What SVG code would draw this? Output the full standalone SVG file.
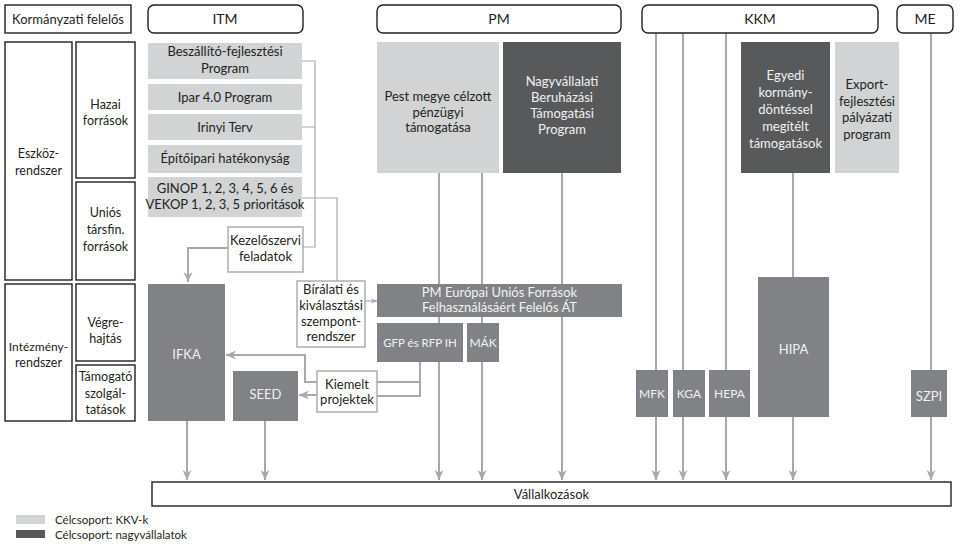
<svg xmlns="http://www.w3.org/2000/svg" width="965" height="546" viewBox="0 0 965 546">
<defs>
<marker id="arr" viewBox="0 0 10 10" refX="10" refY="5" markerWidth="10" markerHeight="10" markerUnits="userSpaceOnUse" orient="auto">
<path d="M0,0.5 L10,5 L0,9.5 L3,5 z" fill="#a7a9ac"/>
</marker>
<marker id="arrs" viewBox="0 0 10 10" refX="10" refY="5" markerWidth="6" markerHeight="6" markerUnits="userSpaceOnUse" orient="auto">
<path d="M0,0.5 L10,5 L0,9.5 L3,5 z" fill="#a7a9ac"/>
</marker>
</defs>
<style>
text{font-family:Lato,"Open Sans","Liberation Sans",sans-serif;font-size:13px;text-anchor:middle;fill:#231f20}
.hdr{fill:#fff;stroke:#231f20;stroke-width:1.4}
.lbl{fill:#fff;stroke:#231f20;stroke-width:1.4}
.lt{fill:#d1d3d4}
.dk{fill:#58595b}
.md{fill:#808285}
.note{fill:#fff;stroke:#a7a9ac;stroke-width:1.4}
.w{fill:#f1f2f2}
.c{fill:none;stroke:#a7a9ac;stroke-width:2}
.t{fill:none;stroke:#a7a9ac;stroke-width:1.2}
text.lg{font-size:11.5px;text-anchor:start}
text.sm{font-size:12.5px}
text.xs{font-size:12px}
text.xxs{font-size:11.5px}
text.h{font-size:14px}
</style>

<g id="connectors">
<path class="t" d="M302,61 H315 V247 H303 M302,127 H315"/>
<path class="t" d="M302,198 H337 V281"/>
<path class="c" d="M228,248 H188 V282" marker-end="url(#arr)"/>
<path class="t" d="M365,301 H377" marker-end="url(#arrs)"/>
<path class="c" d="M420,362 V396 H377 M420,382 H377"/>
<path class="c" d="M317,382 H305 V355 H226" marker-end="url(#arr)"/>
<path class="c" d="M317,395 H299" marker-end="url(#arr)"/>
<path class="c" d="M187,421 V480" marker-end="url(#arr)"/>
<path class="c" d="M265,421 V480" marker-end="url(#arr)"/>
<path class="c" d="M439,173 V480" marker-end="url(#arr)"/>
<path class="c" d="M482,173 V480" marker-end="url(#arr)"/>
<path class="c" d="M562,173 V480" marker-end="url(#arr)"/>
<path class="c" d="M656,33 V480" marker-end="url(#arr)"/>
<path class="c" d="M683,33 V480" marker-end="url(#arr)"/>
<path class="c" d="M726,33 V480" marker-end="url(#arr)"/>
<path class="c" d="M793,173 V480" marker-end="url(#arr)"/>
<path class="c" d="M931,33 V480" marker-end="url(#arr)"/>
</g>

<g id="hdr-korm"><rect class="lbl" x="5" y="5" width="126" height="28"/><text x="68" y="24">Kormányzati felelős</text></g>
<g id="hdr-itm"><rect class="hdr" x="148" y="5" width="155" height="28" rx="6"/><text class="h" x="225" y="24">ITM</text></g>
<g id="hdr-pm"><rect class="hdr" x="377" y="5" width="244" height="28" rx="6"/><text class="h" x="499" y="24">PM</text></g>
<g id="hdr-kkm"><rect class="hdr" x="642" y="5" width="236" height="28" rx="6"/><text class="h" x="760" y="24">KKM</text></g>
<g id="hdr-me"><rect class="hdr" x="897" y="5" width="56" height="28" rx="6"/><text class="h" x="925" y="24">ME</text></g>

<g id="eszkoz"><rect class="lbl" x="5" y="42" width="67" height="238"/><text class="sm" x="38.5" y="158">Eszköz-</text><text class="sm" x="38.5" y="175">rendszer</text></g>
<g id="hazai"><rect class="lbl" x="76" y="42" width="59" height="136"/><text class="sm" x="105.5" y="109">Hazai</text><text class="sm" x="105.5" y="125">források</text></g>
<g id="unios"><rect class="lbl" x="76" y="182" width="59" height="98"/><text class="sm" x="105.5" y="217">Uniós</text><text class="sm" x="105.5" y="234">társfin.</text><text class="sm" x="105.5" y="251">források</text></g>
<g id="intezmeny"><rect class="lbl" x="5" y="284" width="67" height="137"/><text class="xs" x="38.5" y="351">Intézmény-</text><text class="sm" x="38.5" y="367">rendszer</text></g>
<g id="vegre"><rect class="lbl" x="76" y="284" width="59" height="77"/><text class="sm" x="105.5" y="327">Végre-</text><text class="sm" x="105.5" y="343">hajtás</text></g>
<g id="tamogato"><rect class="lbl" x="76" y="365" width="59" height="56"/><text class="sm" x="105.5" y="381">Támogató</text><text class="sm" x="105.5" y="398">szolgál-</text><text class="sm" x="105.5" y="414">tatások</text></g>

<g id="beszallito"><rect class="lt" x="148" y="43" width="154" height="36"/><text x="225" y="56">Beszállító-fejlesztési</text><text x="225" y="73">Program</text></g>
<g id="ipar"><rect class="lt" x="148" y="84" width="154" height="26"/><text x="225" y="101.5">Ipar 4.0 Program</text></g>
<g id="irinyi"><rect class="lt" x="148" y="114" width="154" height="26"/><text x="225" y="131.5">Irinyi Terv</text></g>
<g id="epito"><rect class="lt" x="148" y="145" width="154" height="28"/><text x="225" y="163">Építőipari hatékonyság</text></g>
<g id="ginop"><rect class="lt" x="148" y="177" width="154" height="40"/><text x="225" y="193">GINOP 1, 2, 3, 4, 5, 6 és</text><text x="225" y="209">VEKOP 1, 2, 3, 5 prioritások</text></g>
<g id="kezelo"><rect class="note" x="228" y="227" width="75" height="45"/><text x="265.5" y="245">Kezelőszervi</text><text x="265.5" y="261">feladatok</text></g>
<g id="biralati"><rect class="note" x="297" y="281" width="68" height="66"/><text x="331" y="294">Bírálati és</text><text x="331" y="310">kiválasztási</text><text x="331" y="326">szempont-</text><text x="331" y="341">rendszer</text></g>
<g id="ifka"><rect class="md" x="148" y="284" width="77" height="137"/><text class="w" x="186.5" y="359">IFKA</text></g>
<g id="seed"><rect class="md" x="233" y="371" width="65" height="50"/><text class="w" x="265.5" y="399">SEED</text></g>
<g id="kiemelt"><rect class="note" x="317" y="371" width="60" height="41"/><text x="347" y="389">Kiemelt</text><text x="347" y="404">projektek</text></g>

<g id="pest"><rect class="lt" x="377" y="42" width="122" height="131"/><text x="438" y="101">Pest megye célzott</text><text x="438" y="117">pénzügyi</text><text x="438" y="132">támogatása</text></g>
<g id="nagyv"><rect class="dk" x="503" y="42" width="118" height="131"/><text class="w" x="562" y="86">Nagyvállalati</text><text class="w" x="562" y="102">Beruházási</text><text class="w" x="562" y="118">Támogatási</text><text class="w" x="562" y="134">Program</text></g>
<g id="pmeu"><rect class="md" x="377" y="284" width="245" height="33"/><text class="w" x="499.5" y="297">PM Európai Uniós Források</text><text class="w" x="499.5" y="312">Felhasználásáért Felelős ÁT</text></g>
<g id="gfp"><rect class="md" x="377" y="323" width="86" height="39"/><text class="w xxs" x="420" y="347">GFP és RFP IH</text></g>
<g id="mak"><rect class="md" x="467" y="323" width="32" height="39"/><text class="w xs" x="483" y="347">MÁK</text></g>

<g id="egyedi"><rect class="dk" x="741" y="42" width="89" height="131"/><text class="w" x="785.5" y="80">Egyedi</text><text class="w" x="785.5" y="97">kormány-</text><text class="w" x="785.5" y="114">döntéssel</text><text class="w" x="785.5" y="131">megítélt</text><text class="w" x="785.5" y="148">támogatások</text></g>
<g id="export"><rect class="lt" x="835" y="42" width="64" height="131"/><text x="867" y="89">Export-</text><text x="867" y="106">fejlesztési</text><text x="867" y="122">pályázati</text><text x="867" y="139">program</text></g>
<g id="hipa"><rect class="md" x="758" y="277" width="71" height="140"/><text class="w" x="793.5" y="354">HIPA</text></g>
<g id="mfk"><rect class="md" x="636" y="370" width="32" height="47"/><text class="w xs" x="652" y="398">MFK</text></g>
<g id="kga"><rect class="md" x="673" y="370" width="32" height="47"/><text class="w xs" x="689" y="398">KGA</text></g>
<g id="hepa"><rect class="md" x="709" y="370" width="41" height="47"/><text class="w xs" x="729.5" y="398">HEPA</text></g>
<g id="szpi"><rect class="md" x="911" y="370" width="36" height="47"/><text class="w" x="929" y="401">SZPI</text></g>

<g id="vallalkozasok"><rect class="lbl" x="152" y="482" width="799" height="24"/><text x="551.5" y="499">Vállalkozások</text></g>

<g id="legend">
<rect class="lt" x="16" y="515" width="29" height="9"/>
<rect class="dk" x="16" y="530" width="29" height="8"/>
<text class="lg" x="55" y="524">Célcsoport: KKV-k</text>
<text class="lg" x="55" y="539">Célcsoport: nagyvállalatok</text>
</g>
</svg>
